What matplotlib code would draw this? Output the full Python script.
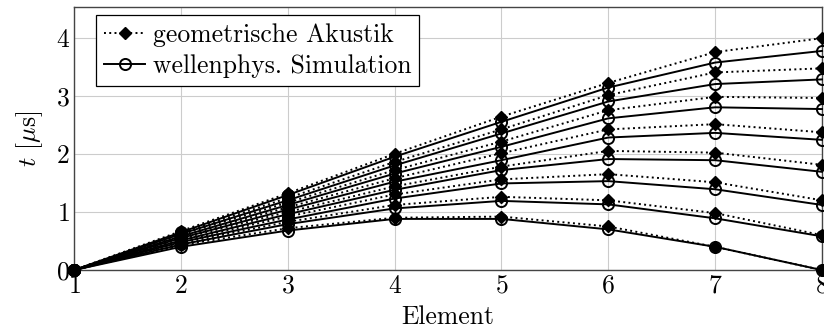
#!/usr/bin/env python3
import matplotlib
matplotlib.use("Agg")
import matplotlib.pyplot as plt


# element index
x = [1, 2, 3, 4, 5, 6, 7, 8]

# geometrische Akustik (dotted, filled diamonds), top to bottom
geo_1 = [0, 0.67, 1.32, 2.00, 2.64, 3.22, 3.75, 3.99]
geo_2 = [0, 0.64, 1.24, 1.86, 2.42, 3.01, 3.40, 3.47]
geo_3 = [0, 0.61, 1.16, 1.72, 2.21, 2.75, 2.98, 2.96]
geo_4 = [0, 0.57, 1.08, 1.58, 2.01, 2.42, 2.51, 2.37]
geo_5 = [0, 0.54, 1.00, 1.44, 1.78, 2.05, 2.02, 1.81]
geo_6 = [0, 0.50, 0.92, 1.30, 1.56, 1.65, 1.51, 1.20]
geo_7 = [0, 0.46, 0.83, 1.12, 1.26, 1.20, 0.98, 0.60]
geo_8 = [0, 0.43, 0.72, 0.90, 0.92, 0.75, 0.40, 0.00]

# wellenphys. Simulation (solid, open circles), top to bottom
sim_1 = [0, 0.65, 1.29, 1.95, 2.55, 3.14, 3.57, 3.77]
sim_2 = [0, 0.62, 1.20, 1.80, 2.35, 2.90, 3.20, 3.28]
sim_3 = [0, 0.58, 1.12, 1.66, 2.12, 2.61, 2.80, 2.77]
sim_4 = [0, 0.55, 1.04, 1.52, 1.89, 2.28, 2.36, 2.24]
sim_5 = [0, 0.51, 0.96, 1.38, 1.72, 1.91, 1.89, 1.69]
sim_6 = [0, 0.48, 0.87, 1.23, 1.49, 1.53, 1.39, 1.12]
sim_7 = [0, 0.44, 0.79, 1.06, 1.19, 1.13, 0.89, 0.58]
sim_8 = [0, 0.40, 0.68, 0.88, 0.88, 0.70, 0.40, 0.00]

geo = [geo_1, geo_2, geo_3, geo_4, geo_5, geo_6, geo_7, geo_8]
sim = [sim_1, sim_2, sim_3, sim_4, sim_5, sim_6, sim_7, sim_8]

plt.rcParams["font.family"] = "cmr10"
plt.rcParams["mathtext.fontset"] = "cm"
plt.rcParams["axes.formatter.use_mathtext"] = True
plt.rcParams["font.size"] = 18.5

fig = plt.figure(figsize=(8.24, 3.33), dpi=100)
ax = fig.add_axes([0.0898, 0.189, 0.9078, 0.789])

for i, (g, s) in enumerate(zip(geo, sim)):
    ax.plot(x, g, color="black", linestyle=(0, (1, 1.7)), linewidth=1.4,
            marker="D", markersize=6.5, markerfacecolor="black",
            clip_on=False, zorder=3,
            label="geometrische Akustik" if i == 0 else None)
    ax.plot(x, s, color="black", linestyle="-", linewidth=1.4,
            marker="o", markersize=8, markerfacecolor="none",
            markeredgewidth=1.4, clip_on=False, zorder=3,
            label="wellenphys. Simulation" if i == 0 else None)

ax.set_xlim(1, 8)
ax.set_ylim(0, 4.52)
ax.set_xticks(x)
ax.set_yticks([0, 1, 2, 3, 4])
ax.grid(True, color="#cccccc", linewidth=0.8)
ax.set_axisbelow(True)
ax.tick_params(direction="in", length=0, pad=3)
for sp in ax.spines.values():
    sp.set_color("#444444")
    sp.set_linewidth(1.0)

ax.set_xlabel("Element", labelpad=5)
ax.set_ylabel(r"$t$ [$\mu$s]", labelpad=8)

leg = ax.legend(loc="upper left", bbox_to_anchor=(0.03, 0.97),
                borderaxespad=0, fancybox=False, framealpha=1,
                edgecolor="black", handlelength=1.6, handletextpad=0.3,
                borderpad=0.3, labelspacing=0.3)
leg.get_frame().set_linewidth(0.9)

fig.savefig("out.png", dpi=100)
